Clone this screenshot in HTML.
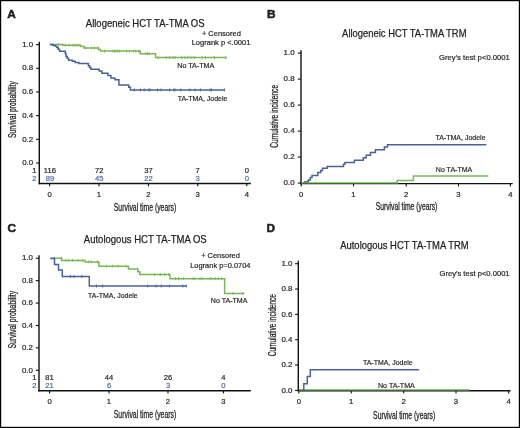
<!DOCTYPE html>
<html><head><meta charset="utf-8"><style>
html,body{margin:0;padding:0;background:#fff;}
body{width:520px;height:428px;overflow:hidden;position:relative;}
svg{position:absolute;left:0;top:0;display:block;will-change:transform;opacity:0.999;filter:blur(0.3px);}
text{font-family:"Liberation Sans", sans-serif;}
</style></head><body>
<svg width="520" height="428" viewBox="0 0 520 428">
<rect x="0" y="0" width="520" height="428" fill="#fff"/>
<text x="7.3" y="18.1" font-size="11.8" text-anchor="start" fill="#231f20" stroke="#231f20" stroke-width="0.55" font-weight="bold">A</text>
<text x="85.8" y="26.5" font-size="10.4" text-anchor="start" fill="#231f20" stroke="#231f20" stroke-width="0.25" font-weight="normal" textLength="118.8" lengthAdjust="spacingAndGlyphs">Allogeneic HCT TA-TMA OS</text>
<line x1="39.3" y1="41.8" x2="39.3" y2="184.15" stroke="#111111" stroke-width="1.4"/>
<line x1="38.65" y1="183.5" x2="250.8" y2="183.5" stroke="#111111" stroke-width="1.4"/>
<line x1="36.099999999999994" y1="44.6" x2="39.3" y2="44.6" stroke="#111111" stroke-width="1.1"/>
<text x="33.2" y="46.800000000000004" font-size="7.9" text-anchor="end" fill="#231f20" stroke="#231f20" stroke-width="0.2" font-weight="normal">1.0</text>
<line x1="36.099999999999994" y1="68.28" x2="39.3" y2="68.28" stroke="#111111" stroke-width="1.1"/>
<text x="33.2" y="70.48" font-size="7.9" text-anchor="end" fill="#231f20" stroke="#231f20" stroke-width="0.2" font-weight="normal">0.8</text>
<line x1="36.099999999999994" y1="91.96000000000001" x2="39.3" y2="91.96000000000001" stroke="#111111" stroke-width="1.1"/>
<text x="33.2" y="94.16000000000001" font-size="7.9" text-anchor="end" fill="#231f20" stroke="#231f20" stroke-width="0.2" font-weight="normal">0.6</text>
<line x1="36.099999999999994" y1="115.63999999999999" x2="39.3" y2="115.63999999999999" stroke="#111111" stroke-width="1.1"/>
<text x="33.2" y="117.83999999999999" font-size="7.9" text-anchor="end" fill="#231f20" stroke="#231f20" stroke-width="0.2" font-weight="normal">0.4</text>
<line x1="36.099999999999994" y1="139.32" x2="39.3" y2="139.32" stroke="#111111" stroke-width="1.1"/>
<text x="33.2" y="141.51999999999998" font-size="7.9" text-anchor="end" fill="#231f20" stroke="#231f20" stroke-width="0.2" font-weight="normal">0.2</text>
<line x1="36.099999999999994" y1="163.0" x2="39.3" y2="163.0" stroke="#111111" stroke-width="1.1"/>
<text x="33.2" y="165.2" font-size="7.9" text-anchor="end" fill="#231f20" stroke="#231f20" stroke-width="0.2" font-weight="normal">0.0</text>
<line x1="49.6" y1="183.5" x2="49.6" y2="186.3" stroke="#111111" stroke-width="1.1"/>
<text x="49.6" y="197.0" font-size="7.7" text-anchor="middle" fill="#231f20" stroke="#231f20" stroke-width="0.2" font-weight="normal">0</text>
<line x1="99.0" y1="183.5" x2="99.0" y2="186.3" stroke="#111111" stroke-width="1.1"/>
<text x="99.0" y="197.0" font-size="7.7" text-anchor="middle" fill="#231f20" stroke="#231f20" stroke-width="0.2" font-weight="normal">1</text>
<line x1="148.5" y1="183.5" x2="148.5" y2="186.3" stroke="#111111" stroke-width="1.1"/>
<text x="148.5" y="197.0" font-size="7.7" text-anchor="middle" fill="#231f20" stroke="#231f20" stroke-width="0.2" font-weight="normal">2</text>
<line x1="197.7" y1="183.5" x2="197.7" y2="186.3" stroke="#111111" stroke-width="1.1"/>
<text x="197.7" y="197.0" font-size="7.7" text-anchor="middle" fill="#231f20" stroke="#231f20" stroke-width="0.2" font-weight="normal">3</text>
<line x1="246.8" y1="183.5" x2="246.8" y2="186.3" stroke="#111111" stroke-width="1.1"/>
<text x="246.8" y="197.0" font-size="7.7" text-anchor="middle" fill="#231f20" stroke="#231f20" stroke-width="0.2" font-weight="normal">4</text>
<text x="113.8" y="210.7" font-size="10.1" text-anchor="start" fill="#231f20" stroke="#231f20" stroke-width="0.28" font-weight="normal" textLength="62.4" lengthAdjust="spacingAndGlyphs">Survival time (years)</text>
<text transform="translate(15.9,137.9) rotate(-90)" x="0" y="0" font-size="10.3" fill="#231f20" stroke="#231f20" stroke-width="0.28" textLength="56.7" lengthAdjust="spacingAndGlyphs">Survival probability</text>
<text x="201.9" y="35.5" font-size="7.9" text-anchor="start" fill="#231f20" stroke="#231f20" stroke-width="0.2" font-weight="normal" textLength="38.9" lengthAdjust="spacingAndGlyphs">+ Censored</text>
<text x="191.7" y="44.5" font-size="7.9" text-anchor="start" fill="#231f20" stroke="#231f20" stroke-width="0.2" font-weight="normal" textLength="58.7" lengthAdjust="spacingAndGlyphs">Logrank p &lt;.0001</text>
<text x="177.3" y="68.2" font-size="7.9" text-anchor="start" fill="#231f20" stroke="#231f20" stroke-width="0.2" font-weight="normal" textLength="36.9" lengthAdjust="spacingAndGlyphs">No TA-TMA</text>
<text x="177.7" y="100.5" font-size="7.9" text-anchor="start" fill="#231f20" stroke="#231f20" stroke-width="0.2" font-weight="normal" textLength="49.6" lengthAdjust="spacingAndGlyphs">TA-TMA, Jodele</text>
<text x="36.5" y="172.5" font-size="7.6" text-anchor="end" fill="#231f20" stroke="#231f20" stroke-width="0.2" font-weight="normal">1</text>
<text x="36.5" y="180.9" font-size="7.6" text-anchor="end" fill="#5068a0" stroke="#5068a0" stroke-width="0.2" font-weight="normal">2</text>
<text x="49.9" y="172.5" font-size="7.6" text-anchor="middle" fill="#231f20" stroke="#231f20" stroke-width="0.2" font-weight="normal">116</text>
<text x="49.9" y="180.9" font-size="7.6" text-anchor="middle" fill="#5068a0" stroke="#5068a0" stroke-width="0.2" font-weight="normal">89</text>
<text x="99.2" y="172.5" font-size="7.6" text-anchor="middle" fill="#231f20" stroke="#231f20" stroke-width="0.2" font-weight="normal">72</text>
<text x="99.2" y="180.9" font-size="7.6" text-anchor="middle" fill="#5068a0" stroke="#5068a0" stroke-width="0.2" font-weight="normal">45</text>
<text x="148.5" y="172.5" font-size="7.6" text-anchor="middle" fill="#231f20" stroke="#231f20" stroke-width="0.2" font-weight="normal">37</text>
<text x="148.5" y="180.9" font-size="7.6" text-anchor="middle" fill="#5068a0" stroke="#5068a0" stroke-width="0.2" font-weight="normal">22</text>
<text x="197.7" y="172.5" font-size="7.6" text-anchor="middle" fill="#231f20" stroke="#231f20" stroke-width="0.2" font-weight="normal">7</text>
<text x="197.7" y="180.9" font-size="7.6" text-anchor="middle" fill="#5068a0" stroke="#5068a0" stroke-width="0.2" font-weight="normal">3</text>
<text x="246.8" y="172.5" font-size="7.6" text-anchor="middle" fill="#231f20" stroke="#231f20" stroke-width="0.2" font-weight="normal">0</text>
<text x="246.8" y="180.9" font-size="7.6" text-anchor="middle" fill="#5068a0" stroke="#5068a0" stroke-width="0.2" font-weight="normal">0</text>
<path d="M49.8,44.6 H63 V45.2 H81 V46.5 H84 V48 H98.5 V49.5 H100.5 V51.1 H140.2 V53.7 H155.6 V57.6 H226.7" fill="none" stroke="#7ab658" stroke-width="1.5" stroke-linejoin="miter" stroke-linecap="butt"/>
<line x1="58.8" y1="43.1" x2="58.8" y2="46.1" stroke="#7ab658" stroke-width="0.9"/>
<line x1="65.1" y1="43.7" x2="65.1" y2="46.7" stroke="#7ab658" stroke-width="0.9"/>
<line x1="69.3" y1="43.7" x2="69.3" y2="46.7" stroke="#7ab658" stroke-width="0.9"/>
<line x1="73" y1="43.7" x2="73" y2="46.7" stroke="#7ab658" stroke-width="0.9"/>
<line x1="75" y1="43.7" x2="75" y2="46.7" stroke="#7ab658" stroke-width="0.9"/>
<line x1="77" y1="43.7" x2="77" y2="46.7" stroke="#7ab658" stroke-width="0.9"/>
<line x1="78.9" y1="43.7" x2="78.9" y2="46.7" stroke="#7ab658" stroke-width="0.9"/>
<line x1="85.2" y1="46.5" x2="85.2" y2="49.5" stroke="#7ab658" stroke-width="0.9"/>
<line x1="91.6" y1="46.5" x2="91.6" y2="49.5" stroke="#7ab658" stroke-width="0.9"/>
<line x1="94.7" y1="46.5" x2="94.7" y2="49.5" stroke="#7ab658" stroke-width="0.9"/>
<line x1="98.4" y1="46.5" x2="98.4" y2="49.5" stroke="#7ab658" stroke-width="0.9"/>
<line x1="104.5" y1="49.6" x2="104.5" y2="52.6" stroke="#7ab658" stroke-width="0.9"/>
<line x1="113" y1="49.6" x2="113" y2="52.6" stroke="#7ab658" stroke-width="0.9"/>
<line x1="114.5" y1="49.6" x2="114.5" y2="52.6" stroke="#7ab658" stroke-width="0.9"/>
<line x1="116" y1="49.6" x2="116" y2="52.6" stroke="#7ab658" stroke-width="0.9"/>
<line x1="117.8" y1="49.6" x2="117.8" y2="52.6" stroke="#7ab658" stroke-width="0.9"/>
<line x1="119.5" y1="49.6" x2="119.5" y2="52.6" stroke="#7ab658" stroke-width="0.9"/>
<line x1="126.5" y1="49.6" x2="126.5" y2="52.6" stroke="#7ab658" stroke-width="0.9"/>
<line x1="129.4" y1="49.6" x2="129.4" y2="52.6" stroke="#7ab658" stroke-width="0.9"/>
<line x1="133.6" y1="49.6" x2="133.6" y2="52.6" stroke="#7ab658" stroke-width="0.9"/>
<line x1="135.7" y1="49.6" x2="135.7" y2="52.6" stroke="#7ab658" stroke-width="0.9"/>
<line x1="138.9" y1="49.6" x2="138.9" y2="52.6" stroke="#7ab658" stroke-width="0.9"/>
<line x1="145.8" y1="52.2" x2="145.8" y2="55.2" stroke="#7ab658" stroke-width="0.9"/>
<line x1="147.5" y1="52.2" x2="147.5" y2="55.2" stroke="#7ab658" stroke-width="0.9"/>
<line x1="149" y1="52.2" x2="149" y2="55.2" stroke="#7ab658" stroke-width="0.9"/>
<line x1="158" y1="56.1" x2="158" y2="59.1" stroke="#7ab658" stroke-width="0.9"/>
<line x1="166.2" y1="56.1" x2="166.2" y2="59.1" stroke="#7ab658" stroke-width="0.9"/>
<line x1="169.5" y1="56.1" x2="169.5" y2="59.1" stroke="#7ab658" stroke-width="0.9"/>
<line x1="173" y1="56.1" x2="173" y2="59.1" stroke="#7ab658" stroke-width="0.9"/>
<line x1="175.2" y1="56.1" x2="175.2" y2="59.1" stroke="#7ab658" stroke-width="0.9"/>
<line x1="181.8" y1="56.1" x2="181.8" y2="59.1" stroke="#7ab658" stroke-width="0.9"/>
<line x1="185" y1="56.1" x2="185" y2="59.1" stroke="#7ab658" stroke-width="0.9"/>
<line x1="187.8" y1="56.1" x2="187.8" y2="59.1" stroke="#7ab658" stroke-width="0.9"/>
<line x1="190.8" y1="56.1" x2="190.8" y2="59.1" stroke="#7ab658" stroke-width="0.9"/>
<line x1="194" y1="56.1" x2="194" y2="59.1" stroke="#7ab658" stroke-width="0.9"/>
<line x1="202.2" y1="56.1" x2="202.2" y2="59.1" stroke="#7ab658" stroke-width="0.9"/>
<line x1="205.5" y1="56.1" x2="205.5" y2="59.1" stroke="#7ab658" stroke-width="0.9"/>
<line x1="214.4" y1="56.1" x2="214.4" y2="59.1" stroke="#7ab658" stroke-width="0.9"/>
<line x1="225.9" y1="56.1" x2="225.9" y2="59.1" stroke="#7ab658" stroke-width="0.9"/>
<path d="M49.8,44.6 H52.9 V45.4 H55.6 V46.2 H56.8 V47.6 H58.2 V49.2 H59.6 V51.2 H65.3 V53.5 H66 V56.4 H67.2 V58.2 H68.6 V60.2 H72.5 V61.3 H75.2 V62.4 H78.9 V63.6 H88.4 V65.8 H89.6 V67.6 H90.9 V69.2 H99.2 V71.1 H101.9 V73.3 H107.9 V75.4 H110.9 V77.9 H114.9 V79.8 H118.9 V84.9 H128.7 V87.2 H130.4 V89.9 H225" fill="none" stroke="#4a6298" stroke-width="1.5" stroke-linejoin="miter" stroke-linecap="butt"/>
<line x1="134.2" y1="88.4" x2="134.2" y2="91.4" stroke="#4a6298" stroke-width="0.9"/>
<line x1="140.5" y1="88.4" x2="140.5" y2="91.4" stroke="#4a6298" stroke-width="0.9"/>
<line x1="144.2" y1="88.4" x2="144.2" y2="91.4" stroke="#4a6298" stroke-width="0.9"/>
<line x1="149" y1="88.4" x2="149" y2="91.4" stroke="#4a6298" stroke-width="0.9"/>
<line x1="150" y1="88.4" x2="150" y2="91.4" stroke="#4a6298" stroke-width="0.9"/>
<line x1="157.5" y1="88.4" x2="157.5" y2="91.4" stroke="#4a6298" stroke-width="0.9"/>
<line x1="161" y1="88.4" x2="161" y2="91.4" stroke="#4a6298" stroke-width="0.9"/>
<line x1="169.6" y1="88.4" x2="169.6" y2="91.4" stroke="#4a6298" stroke-width="0.9"/>
<line x1="173.8" y1="88.4" x2="173.8" y2="91.4" stroke="#4a6298" stroke-width="0.9"/>
<line x1="175" y1="88.4" x2="175" y2="91.4" stroke="#4a6298" stroke-width="0.9"/>
<line x1="180.8" y1="88.4" x2="180.8" y2="91.4" stroke="#4a6298" stroke-width="0.9"/>
<line x1="189.8" y1="88.4" x2="189.8" y2="91.4" stroke="#4a6298" stroke-width="0.9"/>
<line x1="195" y1="88.4" x2="195" y2="91.4" stroke="#4a6298" stroke-width="0.9"/>
<line x1="200.4" y1="88.4" x2="200.4" y2="91.4" stroke="#4a6298" stroke-width="0.9"/>
<line x1="210" y1="88.4" x2="210" y2="91.4" stroke="#4a6298" stroke-width="0.9"/>
<line x1="211.5" y1="88.4" x2="211.5" y2="91.4" stroke="#4a6298" stroke-width="0.9"/>
<line x1="224.4" y1="88.4" x2="224.4" y2="91.4" stroke="#4a6298" stroke-width="0.9"/>
<text x="267.0" y="18.2" font-size="11.8" text-anchor="start" fill="#231f20" stroke="#231f20" stroke-width="0.55" font-weight="bold">B</text>
<text x="342.1" y="36.9" font-size="10.4" text-anchor="start" fill="#231f20" stroke="#231f20" stroke-width="0.25" font-weight="normal" textLength="124.4" lengthAdjust="spacingAndGlyphs">Allogeneic HCT TA-TMA TRM</text>
<line x1="301.0" y1="50.3" x2="301.0" y2="184.25" stroke="#111111" stroke-width="1.4"/>
<line x1="300.35" y1="183.6" x2="512.7" y2="183.6" stroke="#111111" stroke-width="1.4"/>
<line x1="297.8" y1="53.1" x2="301.0" y2="53.1" stroke="#111111" stroke-width="1.1"/>
<text x="294.6" y="55.300000000000004" font-size="7.9" text-anchor="end" fill="#231f20" stroke="#231f20" stroke-width="0.2" font-weight="normal">1.0</text>
<line x1="297.8" y1="79.1" x2="301.0" y2="79.1" stroke="#111111" stroke-width="1.1"/>
<text x="294.6" y="81.3" font-size="7.9" text-anchor="end" fill="#231f20" stroke="#231f20" stroke-width="0.2" font-weight="normal">0.8</text>
<line x1="297.8" y1="105.1" x2="301.0" y2="105.1" stroke="#111111" stroke-width="1.1"/>
<text x="294.6" y="107.3" font-size="7.9" text-anchor="end" fill="#231f20" stroke="#231f20" stroke-width="0.2" font-weight="normal">0.6</text>
<line x1="297.8" y1="131.1" x2="301.0" y2="131.1" stroke="#111111" stroke-width="1.1"/>
<text x="294.6" y="133.29999999999998" font-size="7.9" text-anchor="end" fill="#231f20" stroke="#231f20" stroke-width="0.2" font-weight="normal">0.4</text>
<line x1="297.8" y1="157.1" x2="301.0" y2="157.1" stroke="#111111" stroke-width="1.1"/>
<text x="294.6" y="159.29999999999998" font-size="7.9" text-anchor="end" fill="#231f20" stroke="#231f20" stroke-width="0.2" font-weight="normal">0.2</text>
<line x1="297.8" y1="183.1" x2="301.0" y2="183.1" stroke="#111111" stroke-width="1.1"/>
<text x="294.6" y="185.29999999999998" font-size="7.9" text-anchor="end" fill="#231f20" stroke="#231f20" stroke-width="0.2" font-weight="normal">0.0</text>
<line x1="301.2" y1="183.6" x2="301.2" y2="186.4" stroke="#111111" stroke-width="1.1"/>
<text x="301.2" y="197.0" font-size="7.7" text-anchor="middle" fill="#231f20" stroke="#231f20" stroke-width="0.2" font-weight="normal">0</text>
<line x1="353.5" y1="183.6" x2="353.5" y2="186.4" stroke="#111111" stroke-width="1.1"/>
<text x="353.5" y="197.0" font-size="7.7" text-anchor="middle" fill="#231f20" stroke="#231f20" stroke-width="0.2" font-weight="normal">1</text>
<line x1="406.2" y1="183.6" x2="406.2" y2="186.4" stroke="#111111" stroke-width="1.1"/>
<text x="406.2" y="197.0" font-size="7.7" text-anchor="middle" fill="#231f20" stroke="#231f20" stroke-width="0.2" font-weight="normal">2</text>
<line x1="458.5" y1="183.6" x2="458.5" y2="186.4" stroke="#111111" stroke-width="1.1"/>
<text x="458.5" y="197.0" font-size="7.7" text-anchor="middle" fill="#231f20" stroke="#231f20" stroke-width="0.2" font-weight="normal">3</text>
<line x1="510.4" y1="183.6" x2="510.4" y2="186.4" stroke="#111111" stroke-width="1.1"/>
<text x="510.4" y="197.0" font-size="7.7" text-anchor="middle" fill="#231f20" stroke="#231f20" stroke-width="0.2" font-weight="normal">4</text>
<text x="375.7" y="210.4" font-size="10.1" text-anchor="start" fill="#231f20" stroke="#231f20" stroke-width="0.28" font-weight="normal" textLength="61.6" lengthAdjust="spacingAndGlyphs">Survival time (years)</text>
<text transform="translate(277.6,147.8) rotate(-90)" x="0" y="0" font-size="10.3" fill="#231f20" stroke="#231f20" stroke-width="0.28" textLength="62.900000000000006" lengthAdjust="spacingAndGlyphs">Cumulative incidence</text>
<text x="439.0" y="59.7" font-size="7.9" text-anchor="start" fill="#231f20" stroke="#231f20" stroke-width="0.2" font-weight="normal" textLength="70.9" lengthAdjust="spacingAndGlyphs">Grey's test p&lt;0.0001</text>
<text x="435.4" y="140.2" font-size="7.9" text-anchor="start" fill="#231f20" stroke="#231f20" stroke-width="0.2" font-weight="normal" textLength="50.2" lengthAdjust="spacingAndGlyphs">TA-TMA, Jodele</text>
<text x="435.8" y="172.4" font-size="7.9" text-anchor="start" fill="#231f20" stroke="#231f20" stroke-width="0.2" font-weight="normal" textLength="36.5" lengthAdjust="spacingAndGlyphs">No TA-TMA</text>
<path d="M301.2,183.2 H305 V181.7 H308.3 V179.9 H310.3 V177.6 H312 V175.6 H317.8 V172.4 H320.8 V170.6 H322.5 V168.3 H327.2 V166.5 H343.5 V164.2 H344.9 V162.4 H354.4 V160.2 H363.3 V157.8 H366.2 V155.2 H370.5 V152.5 H375.4 V149.7 H384.4 V147.1 H387.5 V144.7 H486.3" fill="none" stroke="#4a6298" stroke-width="1.5" stroke-linejoin="miter" stroke-linecap="butt"/>
<path d="M301.2,183.3 H397.2 V180.4 H413.4 V176.0 H488.3" fill="none" stroke="#7ab658" stroke-width="1.5" stroke-linejoin="miter" stroke-linecap="butt"/>
<path d="M301.2,183.4 H397.2" fill="none" stroke="#3a7428" stroke-width="1.4" stroke-linejoin="miter" stroke-linecap="butt"/>
<text x="7.5" y="232.1" font-size="11.8" text-anchor="start" fill="#231f20" stroke="#231f20" stroke-width="0.55" font-weight="bold">C</text>
<text x="83.8" y="243.2" font-size="10.4" text-anchor="start" fill="#231f20" stroke="#231f20" stroke-width="0.25" font-weight="normal" textLength="122.9" lengthAdjust="spacingAndGlyphs">Autologous HCT TA-TMA OS</text>
<line x1="39.0" y1="255.3" x2="39.0" y2="391.45" stroke="#111111" stroke-width="1.4"/>
<line x1="38.35" y1="390.8" x2="250.8" y2="390.8" stroke="#111111" stroke-width="1.4"/>
<line x1="35.8" y1="258.2" x2="39.0" y2="258.2" stroke="#111111" stroke-width="1.1"/>
<text x="32.9" y="260.4" font-size="7.9" text-anchor="end" fill="#231f20" stroke="#231f20" stroke-width="0.2" font-weight="normal">1.0</text>
<line x1="35.8" y1="280.62" x2="39.0" y2="280.62" stroke="#111111" stroke-width="1.1"/>
<text x="32.9" y="282.82" font-size="7.9" text-anchor="end" fill="#231f20" stroke="#231f20" stroke-width="0.2" font-weight="normal">0.8</text>
<line x1="35.8" y1="303.03999999999996" x2="39.0" y2="303.03999999999996" stroke="#111111" stroke-width="1.1"/>
<text x="32.9" y="305.23999999999995" font-size="7.9" text-anchor="end" fill="#231f20" stroke="#231f20" stroke-width="0.2" font-weight="normal">0.6</text>
<line x1="35.8" y1="325.46" x2="39.0" y2="325.46" stroke="#111111" stroke-width="1.1"/>
<text x="32.9" y="327.65999999999997" font-size="7.9" text-anchor="end" fill="#231f20" stroke="#231f20" stroke-width="0.2" font-weight="normal">0.4</text>
<line x1="35.8" y1="347.88" x2="39.0" y2="347.88" stroke="#111111" stroke-width="1.1"/>
<text x="32.9" y="350.08" font-size="7.9" text-anchor="end" fill="#231f20" stroke="#231f20" stroke-width="0.2" font-weight="normal">0.2</text>
<line x1="35.8" y1="370.3" x2="39.0" y2="370.3" stroke="#111111" stroke-width="1.1"/>
<text x="32.9" y="372.5" font-size="7.9" text-anchor="end" fill="#231f20" stroke="#231f20" stroke-width="0.2" font-weight="normal">0.0</text>
<line x1="49.6" y1="390.8" x2="49.6" y2="393.6" stroke="#111111" stroke-width="1.1"/>
<text x="49.6" y="404.0" font-size="7.7" text-anchor="middle" fill="#231f20" stroke="#231f20" stroke-width="0.2" font-weight="normal">0</text>
<line x1="109.0" y1="390.8" x2="109.0" y2="393.6" stroke="#111111" stroke-width="1.1"/>
<text x="109.0" y="404.0" font-size="7.7" text-anchor="middle" fill="#231f20" stroke="#231f20" stroke-width="0.2" font-weight="normal">1</text>
<line x1="168.0" y1="390.8" x2="168.0" y2="393.6" stroke="#111111" stroke-width="1.1"/>
<text x="168.0" y="404.0" font-size="7.7" text-anchor="middle" fill="#231f20" stroke="#231f20" stroke-width="0.2" font-weight="normal">2</text>
<line x1="223.4" y1="390.8" x2="223.4" y2="393.6" stroke="#111111" stroke-width="1.1"/>
<text x="223.4" y="404.0" font-size="7.7" text-anchor="middle" fill="#231f20" stroke="#231f20" stroke-width="0.2" font-weight="normal">3</text>
<text x="113.8" y="418.2" font-size="10.1" text-anchor="start" fill="#231f20" stroke="#231f20" stroke-width="0.28" font-weight="normal" textLength="62.4" lengthAdjust="spacingAndGlyphs">Survival time (years)</text>
<text transform="translate(16.0,348.6) rotate(-90)" x="0" y="0" font-size="10.3" fill="#231f20" stroke="#231f20" stroke-width="0.28" textLength="57.80000000000001" lengthAdjust="spacingAndGlyphs">Survival probability</text>
<text x="201.2" y="258.0" font-size="7.9" text-anchor="start" fill="#231f20" stroke="#231f20" stroke-width="0.2" font-weight="normal" textLength="38.7" lengthAdjust="spacingAndGlyphs">+ Censored</text>
<text x="190.2" y="267.5" font-size="7.9" text-anchor="start" fill="#231f20" stroke="#231f20" stroke-width="0.2" font-weight="normal" textLength="60.3" lengthAdjust="spacingAndGlyphs">Logrank p=0.0704</text>
<text x="88.1" y="297.5" font-size="7.9" text-anchor="start" fill="#231f20" stroke="#231f20" stroke-width="0.2" font-weight="normal" textLength="49.6" lengthAdjust="spacingAndGlyphs">TA-TMA, Jodele</text>
<text x="210.8" y="302.7" font-size="7.9" text-anchor="start" fill="#231f20" stroke="#231f20" stroke-width="0.2" font-weight="normal" textLength="36.6" lengthAdjust="spacingAndGlyphs">No TA-TMA</text>
<text x="36.5" y="379.5" font-size="7.6" text-anchor="end" fill="#231f20" stroke="#231f20" stroke-width="0.2" font-weight="normal">1</text>
<text x="36.5" y="388.2" font-size="7.6" text-anchor="end" fill="#5068a0" stroke="#5068a0" stroke-width="0.2" font-weight="normal">2</text>
<text x="49.6" y="379.5" font-size="7.6" text-anchor="middle" fill="#231f20" stroke="#231f20" stroke-width="0.2" font-weight="normal">81</text>
<text x="49.6" y="388.2" font-size="7.6" text-anchor="middle" fill="#5068a0" stroke="#5068a0" stroke-width="0.2" font-weight="normal">21</text>
<text x="109.0" y="379.5" font-size="7.6" text-anchor="middle" fill="#231f20" stroke="#231f20" stroke-width="0.2" font-weight="normal">44</text>
<text x="109.0" y="388.2" font-size="7.6" text-anchor="middle" fill="#5068a0" stroke="#5068a0" stroke-width="0.2" font-weight="normal">6</text>
<text x="168.0" y="379.5" font-size="7.6" text-anchor="middle" fill="#231f20" stroke="#231f20" stroke-width="0.2" font-weight="normal">26</text>
<text x="168.0" y="388.2" font-size="7.6" text-anchor="middle" fill="#5068a0" stroke="#5068a0" stroke-width="0.2" font-weight="normal">3</text>
<text x="223.4" y="379.5" font-size="7.6" text-anchor="middle" fill="#231f20" stroke="#231f20" stroke-width="0.2" font-weight="normal">4</text>
<text x="223.4" y="388.2" font-size="7.6" text-anchor="middle" fill="#5068a0" stroke="#5068a0" stroke-width="0.2" font-weight="normal">0</text>
<path d="M50.4,258.2 H61.6 V260.4 H85 V261.9 H99 V266.2 H128.5 V269 H137.8 V271.7 H139.8 V274.5 H170 V278.7 H224.6 V293.5 H244.3" fill="none" stroke="#7ab658" stroke-width="1.5" stroke-linejoin="miter" stroke-linecap="butt"/>
<line x1="54.2" y1="256.7" x2="54.2" y2="259.7" stroke="#7ab658" stroke-width="0.9"/>
<line x1="61.6" y1="256.7" x2="61.6" y2="259.7" stroke="#7ab658" stroke-width="0.9"/>
<line x1="65.8" y1="258.9" x2="65.8" y2="261.9" stroke="#7ab658" stroke-width="0.9"/>
<line x1="68.4" y1="258.9" x2="68.4" y2="261.9" stroke="#7ab658" stroke-width="0.9"/>
<line x1="72.7" y1="258.9" x2="72.7" y2="261.9" stroke="#7ab658" stroke-width="0.9"/>
<line x1="78" y1="258.9" x2="78" y2="261.9" stroke="#7ab658" stroke-width="0.9"/>
<line x1="82.7" y1="258.9" x2="82.7" y2="261.9" stroke="#7ab658" stroke-width="0.9"/>
<line x1="88.8" y1="260.4" x2="88.8" y2="263.4" stroke="#7ab658" stroke-width="0.9"/>
<line x1="91.2" y1="260.4" x2="91.2" y2="263.4" stroke="#7ab658" stroke-width="0.9"/>
<line x1="97.3" y1="260.4" x2="97.3" y2="263.4" stroke="#7ab658" stroke-width="0.9"/>
<line x1="106.5" y1="264.7" x2="106.5" y2="267.7" stroke="#7ab658" stroke-width="0.9"/>
<line x1="112.7" y1="264.7" x2="112.7" y2="267.7" stroke="#7ab658" stroke-width="0.9"/>
<line x1="118" y1="264.7" x2="118" y2="267.7" stroke="#7ab658" stroke-width="0.9"/>
<line x1="126.2" y1="264.7" x2="126.2" y2="267.7" stroke="#7ab658" stroke-width="0.9"/>
<line x1="137.7" y1="267.5" x2="137.7" y2="270.5" stroke="#7ab658" stroke-width="0.9"/>
<line x1="154.6" y1="273.0" x2="154.6" y2="276.0" stroke="#7ab658" stroke-width="0.9"/>
<line x1="160.3" y1="273.0" x2="160.3" y2="276.0" stroke="#7ab658" stroke-width="0.9"/>
<line x1="164.6" y1="273.0" x2="164.6" y2="276.0" stroke="#7ab658" stroke-width="0.9"/>
<line x1="168.5" y1="273.0" x2="168.5" y2="276.0" stroke="#7ab658" stroke-width="0.9"/>
<line x1="175.4" y1="277.2" x2="175.4" y2="280.2" stroke="#7ab658" stroke-width="0.9"/>
<line x1="178.5" y1="277.2" x2="178.5" y2="280.2" stroke="#7ab658" stroke-width="0.9"/>
<line x1="183.4" y1="277.2" x2="183.4" y2="280.2" stroke="#7ab658" stroke-width="0.9"/>
<line x1="193" y1="277.2" x2="193" y2="280.2" stroke="#7ab658" stroke-width="0.9"/>
<line x1="194.6" y1="277.2" x2="194.6" y2="280.2" stroke="#7ab658" stroke-width="0.9"/>
<line x1="200" y1="277.2" x2="200" y2="280.2" stroke="#7ab658" stroke-width="0.9"/>
<line x1="202.3" y1="277.2" x2="202.3" y2="280.2" stroke="#7ab658" stroke-width="0.9"/>
<line x1="210.8" y1="277.2" x2="210.8" y2="280.2" stroke="#7ab658" stroke-width="0.9"/>
<line x1="215.4" y1="277.2" x2="215.4" y2="280.2" stroke="#7ab658" stroke-width="0.9"/>
<line x1="218.5" y1="277.2" x2="218.5" y2="280.2" stroke="#7ab658" stroke-width="0.9"/>
<line x1="221.5" y1="277.2" x2="221.5" y2="280.2" stroke="#7ab658" stroke-width="0.9"/>
<line x1="233" y1="292.0" x2="233" y2="295.0" stroke="#7ab658" stroke-width="0.9"/>
<line x1="243" y1="292.0" x2="243" y2="295.0" stroke="#7ab658" stroke-width="0.9"/>
<path d="M50.4,258.4 H54.5 V264.4 H58.5 V270 H62.3 V276.5 H89.3 V286 H186.9" fill="none" stroke="#4a6298" stroke-width="1.5" stroke-linejoin="miter" stroke-linecap="butt"/>
<line x1="70.4" y1="275.0" x2="70.4" y2="278.0" stroke="#4a6298" stroke-width="0.9"/>
<line x1="74.2" y1="275.0" x2="74.2" y2="278.0" stroke="#4a6298" stroke-width="0.9"/>
<line x1="81.9" y1="275.0" x2="81.9" y2="278.0" stroke="#4a6298" stroke-width="0.9"/>
<line x1="96.5" y1="284.5" x2="96.5" y2="287.5" stroke="#4a6298" stroke-width="0.9"/>
<line x1="102.7" y1="284.5" x2="102.7" y2="287.5" stroke="#4a6298" stroke-width="0.9"/>
<line x1="147.7" y1="284.5" x2="147.7" y2="287.5" stroke="#4a6298" stroke-width="0.9"/>
<line x1="156.2" y1="284.5" x2="156.2" y2="287.5" stroke="#4a6298" stroke-width="0.9"/>
<line x1="161.2" y1="284.5" x2="161.2" y2="287.5" stroke="#4a6298" stroke-width="0.9"/>
<line x1="169.5" y1="284.5" x2="169.5" y2="287.5" stroke="#4a6298" stroke-width="0.9"/>
<line x1="182.8" y1="284.5" x2="182.8" y2="287.5" stroke="#4a6298" stroke-width="0.9"/>
<line x1="186.2" y1="284.5" x2="186.2" y2="287.5" stroke="#4a6298" stroke-width="0.9"/>
<text x="266.6" y="232.2" font-size="11.8" text-anchor="start" fill="#231f20" stroke="#231f20" stroke-width="0.55" font-weight="bold">D</text>
<text x="340.2" y="248.8" font-size="10.4" text-anchor="start" fill="#231f20" stroke="#231f20" stroke-width="0.25" font-weight="normal" textLength="128.5" lengthAdjust="spacingAndGlyphs">Autologous HCT TA-TMA TRM</text>
<line x1="298.3" y1="260.8" x2="298.3" y2="391.34999999999997" stroke="#111111" stroke-width="1.4"/>
<line x1="297.65000000000003" y1="390.7" x2="510.5" y2="390.7" stroke="#111111" stroke-width="1.4"/>
<line x1="295.1" y1="263.7" x2="298.3" y2="263.7" stroke="#111111" stroke-width="1.1"/>
<text x="292.4" y="265.9" font-size="7.9" text-anchor="end" fill="#231f20" stroke="#231f20" stroke-width="0.2" font-weight="normal">1.0</text>
<line x1="295.1" y1="289.03999999999996" x2="298.3" y2="289.03999999999996" stroke="#111111" stroke-width="1.1"/>
<text x="292.4" y="291.23999999999995" font-size="7.9" text-anchor="end" fill="#231f20" stroke="#231f20" stroke-width="0.2" font-weight="normal">0.8</text>
<line x1="295.1" y1="314.38" x2="298.3" y2="314.38" stroke="#111111" stroke-width="1.1"/>
<text x="292.4" y="316.58" font-size="7.9" text-anchor="end" fill="#231f20" stroke="#231f20" stroke-width="0.2" font-weight="normal">0.6</text>
<line x1="295.1" y1="339.71999999999997" x2="298.3" y2="339.71999999999997" stroke="#111111" stroke-width="1.1"/>
<text x="292.4" y="341.91999999999996" font-size="7.9" text-anchor="end" fill="#231f20" stroke="#231f20" stroke-width="0.2" font-weight="normal">0.4</text>
<line x1="295.1" y1="365.06" x2="298.3" y2="365.06" stroke="#111111" stroke-width="1.1"/>
<text x="292.4" y="367.26" font-size="7.9" text-anchor="end" fill="#231f20" stroke="#231f20" stroke-width="0.2" font-weight="normal">0.2</text>
<line x1="295.1" y1="390.4" x2="298.3" y2="390.4" stroke="#111111" stroke-width="1.1"/>
<text x="292.4" y="392.59999999999997" font-size="7.9" text-anchor="end" fill="#231f20" stroke="#231f20" stroke-width="0.2" font-weight="normal">0.0</text>
<line x1="298.8" y1="390.7" x2="298.8" y2="393.5" stroke="#111111" stroke-width="1.1"/>
<text x="298.8" y="404.0" font-size="7.7" text-anchor="middle" fill="#231f20" stroke="#231f20" stroke-width="0.2" font-weight="normal">0</text>
<line x1="351.2" y1="390.7" x2="351.2" y2="393.5" stroke="#111111" stroke-width="1.1"/>
<text x="351.2" y="404.0" font-size="7.7" text-anchor="middle" fill="#231f20" stroke="#231f20" stroke-width="0.2" font-weight="normal">1</text>
<line x1="403.7" y1="390.7" x2="403.7" y2="393.5" stroke="#111111" stroke-width="1.1"/>
<text x="403.7" y="404.0" font-size="7.7" text-anchor="middle" fill="#231f20" stroke="#231f20" stroke-width="0.2" font-weight="normal">2</text>
<line x1="456.0" y1="390.7" x2="456.0" y2="393.5" stroke="#111111" stroke-width="1.1"/>
<text x="456.0" y="404.0" font-size="7.7" text-anchor="middle" fill="#231f20" stroke="#231f20" stroke-width="0.2" font-weight="normal">3</text>
<line x1="508.7" y1="390.7" x2="508.7" y2="393.5" stroke="#111111" stroke-width="1.1"/>
<text x="508.7" y="404.0" font-size="7.7" text-anchor="middle" fill="#231f20" stroke="#231f20" stroke-width="0.2" font-weight="normal">4</text>
<text x="373.1" y="418.5" font-size="10.1" text-anchor="start" fill="#231f20" stroke="#231f20" stroke-width="0.28" font-weight="normal" textLength="62.1" lengthAdjust="spacingAndGlyphs">Survival time (years)</text>
<text transform="translate(275.5,356.3) rotate(-90)" x="0" y="0" font-size="10.3" fill="#231f20" stroke="#231f20" stroke-width="0.28" textLength="62.30000000000001" lengthAdjust="spacingAndGlyphs">Cumulative incidence</text>
<text x="439.5" y="275.8" font-size="7.9" text-anchor="start" fill="#231f20" stroke="#231f20" stroke-width="0.2" font-weight="normal" textLength="70.1" lengthAdjust="spacingAndGlyphs">Grey's test p&lt;0.0001</text>
<text x="363.0" y="365.4" font-size="7.9" text-anchor="start" fill="#231f20" stroke="#231f20" stroke-width="0.2" font-weight="normal" textLength="49.7" lengthAdjust="spacingAndGlyphs">TA-TMA, Jodele</text>
<text x="378.0" y="387.6" font-size="7.9" text-anchor="start" fill="#231f20" stroke="#231f20" stroke-width="0.2" font-weight="normal" textLength="36.8" lengthAdjust="spacingAndGlyphs">No TA-TMA</text>
<path d="M298.8,390.4 H303.8 V383.7 H307.3 V376.4 H310.3 V369.7 H419.1" fill="none" stroke="#4a6298" stroke-width="1.5" stroke-linejoin="miter" stroke-linecap="butt"/>
<path d="M298.8,390.3 H469.8" fill="none" stroke="#3a7428" stroke-width="1.4" stroke-linejoin="miter" stroke-linecap="butt"/>
<rect x="0.6" y="0.6" width="518.8" height="426.8" fill="none" stroke="#000" stroke-width="1.2"/>
</svg>
</body></html>
